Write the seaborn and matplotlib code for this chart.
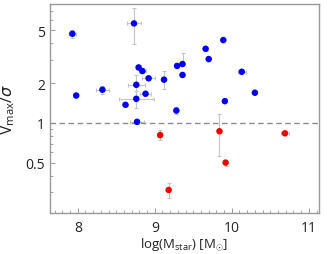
import numpy as np
import pandas as pd
import matplotlib
matplotlib.use("Agg")
import matplotlib.pyplot as plt
import matplotlib.ticker as mticker
import seaborn as sns

# Blue: rotation dominated (Vmax/sigma > 1)
blue_logm = [7.93, 7.98, 8.32, 8.73, 8.79, 8.84, 8.92, 8.76, 8.88, 8.76, 8.62, 8.77,
             9.12, 9.28, 9.29, 9.36, 9.36, 9.66, 9.70, 9.89, 9.91, 10.13, 10.30]
blue_ratio = [4.70, 1.61, 1.78, 5.62, 2.62, 2.46, 2.17, 1.94, 1.66, 1.52, 1.37, 1.02,
              2.12, 1.24, 2.69, 2.78, 2.30, 3.62, 3.03, 4.21, 1.46, 2.43, 1.69]
blue_xerr = [0.05, 0.0, 0.08, 0.09, 0.0, 0.04, 0.08, 0.11, 0.07, 0.23, 0.0, 0.09,
             0.0, 0.0, 0.0, 0.0, 0.0, 0.0, 0.0, 0.0, 0.0, 0.05, 0.0]
blue_ylo = [0.30, 0.0, 0.12, 1.70, 0.12, 0.0, 0.0, 0.35, 0.0, 0.22, 0.0, 0.04,
            0.33, 0.08, 0.0, 0.0, 0.0, 0.12, 0.0, 0.0, 0.0, 0.0, 0.0]
blue_yhi = [0.30, 0.0, 0.12, 1.70, 0.12, 0.0, 0.0, 0.35, 0.0, 0.22, 0.0, 0.04,
            0.33, 0.08, 0.0, 0.60, 0.0, 0.12, 0.0, 0.0, 0.0, 0.0, 0.0]

# Red: dispersion dominated (Vmax/sigma < 1)
red_logm = [9.07, 9.18, 9.84, 9.92, 10.69]
red_ratio = [0.81, 0.313, 0.866, 0.503, 0.836]
red_xerr = [0.0, 0.0, 0.0, 0.0, 0.05]
red_ylo = [0.07, 0.04, 0.30, 0.03, 0.0]
red_yhi = [0.07, 0.04, 0.30, 0.0, 0.0]

df = pd.DataFrame({
    "logm": blue_logm + red_logm,
    "ratio": blue_ratio + red_ratio,
    "kind": ["rot"] * len(blue_logm) + ["disp"] * len(red_logm),
})

sns.set_style("white")
plt.rcParams["font.family"] = ["Open Sans", "DejaVu Sans"]
plt.rcParams["mathtext.fontset"] = "custom"
plt.rcParams["mathtext.rm"] = "Open Sans"
plt.rcParams["mathtext.it"] = "DejaVu Sans:italic"

fig = plt.figure(figsize=(3.27, 2.55), dpi=100)
ax = fig.add_axes([0.153, 0.161, 0.822, 0.819])

ecol = "#c4c4c4"
ax.errorbar(blue_logm, blue_ratio, xerr=blue_xerr, yerr=[blue_ylo, blue_yhi],
            fmt="none", ecolor=ecol, elinewidth=0.8, capsize=1.5, capthick=0.8, zorder=1)
ax.errorbar(red_logm, red_ratio, xerr=red_xerr, yerr=[red_ylo, red_yhi],
            fmt="none", ecolor=ecol, elinewidth=0.8, capsize=1.5, capthick=0.8, zorder=1)

sns.scatterplot(data=df, x="logm", y="ratio", hue="kind",
                palette={"rot": "#0000ee", "disp": "#ee0000"},
                s=22, edgecolor="none", legend=False, ax=ax, zorder=3)

ax.axhline(1.0, color="#8c8c8c", ls=(0, (4, 2.5)), lw=1.0, zorder=2)

ax.set_yscale("log")
ax.set_xlim(7.64, 11.13)
ax.set_ylim(0.21, 7.86)

ax.set_yticks([0.5, 1, 2, 5])
ax.yaxis.set_major_formatter(mticker.FixedFormatter(["0.5", "1", "2", "5"]))
ax.yaxis.set_minor_locator(mticker.LogLocator(base=10, subs=np.arange(2, 10) * 1.0))
ax.yaxis.set_minor_formatter(mticker.NullFormatter())
ax.set_xticks([8, 9, 10, 11])
ax.xaxis.set_minor_locator(mticker.MultipleLocator(0.1))

ax.tick_params(axis="both", which="both", direction="in", colors="#999999",
               labelcolor="#222222", labelsize=10, top=False, right=False,
               bottom=True, left=True)
ax.tick_params(which="major", length=3.5, width=0.7)
ax.tick_params(which="minor", length=2, width=0.6)
ax.tick_params(axis="x", pad=5)

for sp in ax.spines.values():
    sp.set_color("#999999")
    sp.set_linewidth(1.0)

ax.set_xlabel(r"log(M$_{\mathrm{star}}$) [M$_{\odot}$]", fontsize=9.5, color="#222222", labelpad=0)
ax.set_ylabel(r"V$_{\mathrm{max}}/\sigma$", fontsize=11.5, color="#222222", labelpad=6)

fig.savefig("out.png", dpi=100)
